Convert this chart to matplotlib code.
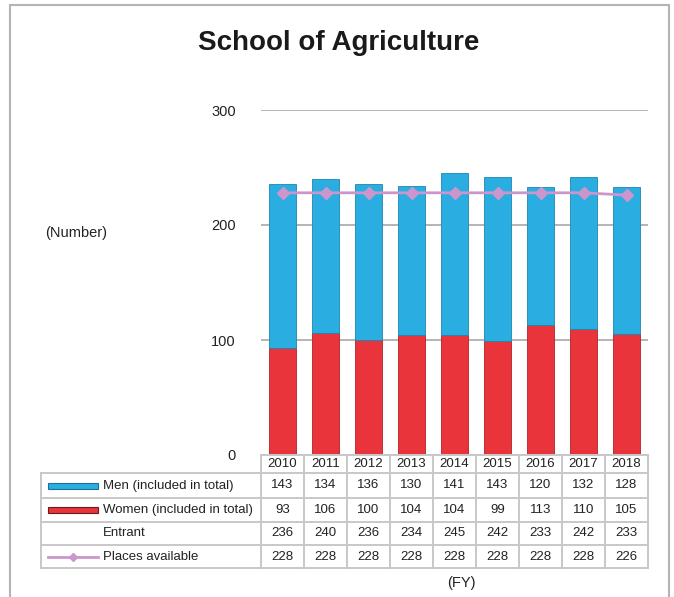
import matplotlib
matplotlib.use("Agg")
import matplotlib.pyplot as plt
import matplotlib.transforms as mtransforms
from matplotlib.lines import Line2D
from matplotlib.patches import Rectangle

plt.rcParams['font.family'] = ['Liberation Sans', 'DejaVu Sans']

years = ['2010', '2011', '2012', '2013', '2014', '2015', '2016', '2017', '2018']
men = [143, 134, 136, 130, 141, 143, 120, 132, 128]
women = [93, 106, 100, 104, 104, 99, 113, 110, 105]
entrant = [236, 240, 236, 234, 245, 242, 233, 242, 233]
places = [228, 228, 228, 228, 228, 228, 228, 228, 226]

row_labels = ['Men (included in total)', 'Women (included in total)', 'Entrant', 'Places available']
rows = [men, women, entrant, places]

W, H = 674, 597
BLUE = '#2aaee2'
RED = '#e8343a'
PINK = '#cc96cc'
GRID = '#a8a8a8'
TBL = '#c8c8c8'

fx = lambda px: px / W
fy = lambda py: 1 - py / H

fig = plt.figure(figsize=(W / 100, H / 100), dpi=100)

# outer frame
fig.add_artist(Rectangle((fx(10), fy(640)), fx(669) - fx(10), fy(5) - fy(640),
                         transform=fig.transFigure, fill=False, ec='#b4b4b4', lw=1.5))

fig.text(fx(339), fy(43), 'School of Agriculture', ha='center', va='center',
         fontsize=20, fontweight='bold', color='#1a1a1a')
fig.text(fx(45), fy(233), '(Number)', ha='left', va='center', fontsize=10.5, color='#222222')
fig.text(fx(461), fy(583), '(FY)', ha='center', va='center', fontsize=10.5, color='#222222')

ax = fig.add_axes([fx(261), fy(455), fx(648) - fx(261), fy(110) - fy(455)])
x = list(range(len(years)))
ax.bar(x, women, width=0.62, color=RED, edgecolor='#b02226', linewidth=0.6, zorder=3)
ax.bar(x, men, width=0.62, bottom=women, color=BLUE, edgecolor='#1f86b0', linewidth=0.6, zorder=3)
ax.plot(x, places, color=PINK, lw=2, marker='D', markersize=6, zorder=4)

ax.set_xlim(-0.5, len(years) - 0.5)
ax.set_ylim(0, 300)
ax.set_yticks([0, 100, 200, 300])
ax.yaxis.grid(True, color=GRID, lw=1.2, zorder=0)
ax.set_xticks([])
ax.tick_params(axis='y', length=0, pad=18, labelsize=10.5, labelcolor='#222222')
for s in ax.spines.values():
    s.set_visible(False)

# data table below the plot
blend = mtransforms.blended_transform_factory(ax.transData, fig.transFigure)
row_edges = [455, 473, 498, 522, 545, 568]
x_left = -0.5
x_right = len(years) - 0.5
x_left_fig = ax.transData.transform((x_left, 0))[0] / W

def hline(x0, x1, py, trans=blend):
    fig.add_artist(Line2D([x0, x1], [fy(py), fy(py)], transform=trans, color=TBL, lw=1.4))

hline(x_left, x_right, row_edges[0])
for py in row_edges[1:]:
    hline(x_left, x_right, py)
    hline(fx(41), x_left_fig, py, trans=fig.transFigure)
for i in range(len(years) + 1):
    fig.add_artist(Line2D([i - 0.5, i - 0.5], [fy(row_edges[0]), fy(row_edges[-1])],
                          transform=blend, color=TBL, lw=1.4))
fig.add_artist(Line2D([fx(41), fx(41)], [fy(row_edges[1]), fy(row_edges[-1])],
                      transform=fig.transFigure, color=TBL, lw=1.4))

for i, yr in enumerate(years):
    fig.text(i, fy((row_edges[0] + row_edges[1]) / 2), yr, transform=blend,
             ha='center', va='center', fontsize=9.5, color='#222222')
for r, vals in enumerate(rows):
    yc = fy((row_edges[r + 1] + row_edges[r + 2]) / 2)
    for i, v in enumerate(vals):
        fig.text(i, yc, str(v), transform=blend, ha='center', va='center',
                 fontsize=9.5, color='#222222')
    fig.text(fx(103), yc, row_labels[r], ha='left', va='center', fontsize=9.5, color='#222222')

# legend keys
for r, (fc, ec) in enumerate([(BLUE, '#1f6f95'), (RED, '#6a1a1a')]):
    yc = (row_edges[r + 1] + row_edges[r + 2]) / 2
    fig.add_artist(Rectangle((fx(48), fy(yc + 3)), fx(98) - fx(48), fy(yc - 3) - fy(yc + 3),
                             transform=fig.transFigure, fc=fc, ec=ec, lw=0.8))
yc = (row_edges[4] + row_edges[5]) / 2
fig.add_artist(Line2D([fx(48), fx(98)], [fy(yc), fy(yc)], transform=fig.transFigure,
                      color=PINK, lw=2))
fig.add_artist(Line2D([fx(73)], [fy(yc)], transform=fig.transFigure,
                      color=PINK, marker='D', markersize=4, lw=0))

fig.savefig('out.png', dpi=100)
